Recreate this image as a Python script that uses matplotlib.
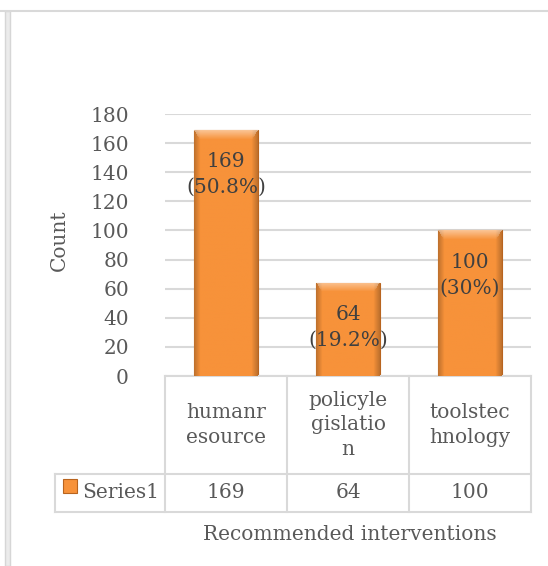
import numpy as np
import matplotlib
matplotlib.use("Agg")
import matplotlib.pyplot as plt
from matplotlib.lines import Line2D
from matplotlib.patches import Rectangle

# --- Data ---
categories = ["humanresource", "policylegislation", "toolstechnology"]
cat_labels = ["humanr\nesource", "policyle\ngislatio\nn", "toolstec\nhnology"]
counts = [169, 64, 100]
series_name = "Series1"
x_title = "Recommended interventions"
y_title = "Count"
y_ticks = [0, 20, 40, 60, 80, 100, 120, 140, 160, 180]

# --- Style ---
W, H = 548, 566
TEXT = "#595959"
GRID = "#D9D9D9"
ORANGE = np.array([247, 146, 58]) / 255.0
FONT = "DejaVu Serif"
FS = 14.5

plt.rcParams["font.family"] = FONT


def fx(px):
    return px / W


def fy(py):
    return 1 - py / H


def bevel_image(w_px, h_px):
    # orange face with darker sides and a lighter bevelled top
    img = np.tile(ORANGE, (h_px, w_px, 1))
    xs = np.arange(w_px)
    side = np.minimum(xs, w_px - 1 - xs)
    dark = np.clip(1 - side / 6.0, 0, 1) * 0.22
    img = img * (1 - dark[None, :, None])
    ys = np.arange(h_px)
    top = np.clip(1 - ys / 9.0, 0, 1)
    light = np.where(ys[:, None] < 9, top[:, None] * 0.45, 0.0)
    light = light * (side[None, :] >= ys[:, None] * 0.6)
    img = img + (1 - img) * light[:, :, None]
    return np.clip(img, 0, 1)


fig = plt.figure(figsize=(W / 100, H / 100), dpi=100)

# outer chart frame
fig.add_artist(Line2D([fx(0), fx(W)], [fy(11), fy(11)], color=GRID, lw=1.5))
fig.add_artist(Rectangle((fx(5), 0), fx(5), fy(11), facecolor="#EBEBEB",
                         edgecolor="#D6D6D6", lw=1.0))

ax = fig.add_axes([fx(165), fy(376), fx(531 - 165), (376 - 114) / H])
for s in ax.spines.values():
    s.set_visible(False)

ax.set_yticks(y_ticks)
ax.tick_params(axis="y", length=0, pad=26, labelsize=FS, labelcolor=TEXT)
ax.tick_params(axis="x", length=0, labelbottom=False)
ax.yaxis.grid(True, color=GRID, lw=1.5)
ax.set_axisbelow(True)

x = np.arange(len(categories))
bars = ax.bar(x, counts, width=0.52, color=ORANGE, edgecolor="#B8641F",
              lw=0.8, zorder=2)
ax.set_xlim(-0.5, 2.5)
ax.set_ylim(0, 180)

# gradient fill clipped to each bar
for b in bars:
    bx, by = b.get_x(), b.get_y()
    bw, bh = b.get_width(), b.get_height()
    p0 = ax.transData.transform((bx, by))
    p1 = ax.transData.transform((bx + bw, by + bh))
    img = bevel_image(max(int(p1[0] - p0[0]), 2), max(int(p1[1] - p0[1]), 2))
    im = ax.imshow(img, extent=(bx, bx + bw, by, by + bh), aspect="auto",
                   zorder=2.5, interpolation="bilinear")
    im.set_clip_path(b)
ax.set_xlim(-0.5, 2.5)
ax.set_ylim(0, 180)

total = sum(counts)
for xi, c in zip(x, counts):
    pct = round(c / total * 100, 1)
    ax.annotate(f"{c}\n({pct:g}%)", (xi, c), xytext=(0, -16),
                textcoords="offset points", ha="center", va="top",
                fontsize=FS, color="#404040", linespacing=1.45, zorder=4)

ax.set_ylabel(y_title, fontsize=FS, color=TEXT)
ax.yaxis.set_label_coords(-0.262, 0.52)

# data table under the axis
y_hdr = -(474 - 376) / 262
y_bot = -(512 - 376) / 262
x_key = (55 - 165) / 366
tr = ax.transAxes
line_kw = dict(color=GRID, lw=1.5, transform=tr, clip_on=False)
ax.add_line(Line2D([0, 1], [0, 0], **line_kw))
ax.add_line(Line2D([x_key, 1], [y_hdr, y_hdr], **line_kw))
ax.add_line(Line2D([x_key, 1], [y_bot, y_bot], **line_kw))
ax.add_line(Line2D([x_key, x_key], [y_hdr, y_bot], **line_kw))
for k in range(len(categories) + 1):
    ax.add_line(Line2D([k / 3, k / 3], [0, y_bot], **line_kw))

for k, (lab, c) in enumerate(zip(cat_labels, counts)):
    cx = (k + 0.5) / 3
    ax.text(cx, y_hdr / 2, lab, transform=tr, ha="center", va="center",
            fontsize=FS, color=TEXT, linespacing=1.35)
    ax.text(cx, (y_hdr + y_bot) / 2, str(c), transform=tr, ha="center",
            va="center", fontsize=FS, color=TEXT)

# legend key and series name
ky = (y_hdr + y_bot) / 2
fig.add_artist(Rectangle((fx(63), fy(493)), fx(14), 14 / H,
                         transform=fig.transFigure, facecolor=ORANGE,
                         edgecolor="#B8641F", lw=0.8))
ax.text((82 - 165) / 366, ky, series_name, transform=tr, ha="left",
        va="center", fontsize=FS, color=TEXT)

ax.text((350 - 165) / 366, -(535 - 376) / 262, x_title, transform=tr,
        ha="center", va="center", fontsize=FS, color=TEXT)

fig.savefig("out.png", dpi=100)
